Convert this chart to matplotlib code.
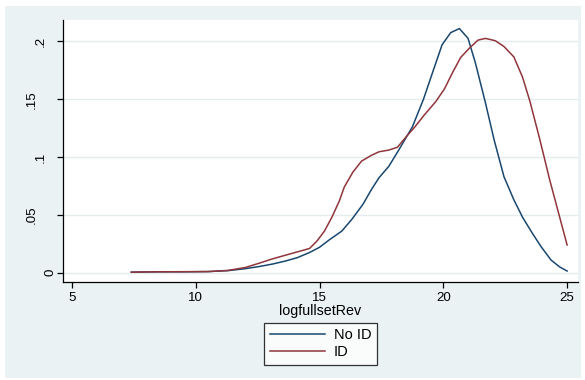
import matplotlib
matplotlib.use("Agg")
import matplotlib.pyplot as plt
from matplotlib.patches import Rectangle
from matplotlib.transforms import ScaledTranslation

# ---- data ----
x_noid = [7.4, 8.5, 9.5, 10.5, 11.3, 12.0, 12.6, 13.1, 13.6, 14.1, 14.6, 15.0,
          15.4, 15.9, 16.3, 16.75, 17.1, 17.4, 17.8, 18.2, 18.75, 19.2, 19.55,
          19.95, 20.3, 20.65, 21.0, 21.3, 21.7, 22.05, 22.45, 22.85, 23.2, 23.6,
          23.95, 24.35, 24.7, 25.0]
y_noid = [0.0005, 0.0008, 0.0008, 0.001, 0.0018, 0.0035, 0.0055, 0.0075, 0.010,
          0.013, 0.0175, 0.022, 0.0285, 0.036, 0.046, 0.059, 0.072, 0.082, 0.092,
          0.106, 0.126, 0.150, 0.172, 0.197, 0.2075, 0.211, 0.2025, 0.181, 0.147,
          0.115, 0.083, 0.063, 0.048, 0.034, 0.0225, 0.011, 0.005, 0.0015]

x_id = [7.4, 8.5, 9.5, 10.5, 11.3, 12.0, 12.6, 13.1, 13.6, 14.1, 14.6, 14.9,
        15.2, 15.5, 15.8, 16.0, 16.35, 16.7, 17.1, 17.4, 17.8, 18.15, 18.5,
        18.85, 19.2, 19.7, 20.05, 20.35, 20.7, 21.05, 21.4, 21.7, 22.1, 22.45,
        22.85, 23.2, 23.5, 23.9, 24.3, 24.7, 25.0]
y_id = [0.0005, 0.0008, 0.0009, 0.001, 0.002, 0.0045, 0.0085, 0.012, 0.015,
        0.018, 0.021, 0.0275, 0.036, 0.048, 0.062, 0.074, 0.087, 0.0965, 0.1015,
        0.1045, 0.106, 0.1085, 0.1175, 0.126, 0.1355, 0.148, 0.159, 0.172, 0.186,
        0.194, 0.201, 0.2025, 0.2005, 0.1955, 0.1865, 0.169, 0.148, 0.115, 0.080,
        0.048, 0.024]

series_labels = ["No ID", "ID"]
x_ticks = [5, 10, 15, 20, 25]
y_ticks = [0, 0.05, 0.1, 0.15, 0.2]
y_tick_labels = ["0", ".05", ".1", ".15", ".2"]
x_title = "logfullsetRev"

# ---- style ----
plt.rcParams['font.family'] = ['Liberation Sans', 'DejaVu Sans']
W, H = 585, 380
BG = '#EAF2F3'
NAVY = '#1a476f'
MAROON = '#90353b'

fig = plt.figure(figsize=(W / 100, H / 100), dpi=100)
fig.patch.set_facecolor('white')
fig.patches.append(Rectangle((5 / W, 1 - 378 / H), (581 - 5) / W, (378 - 6) / H,
                             transform=fig.transFigure, facecolor=BG,
                             edgecolor='none', zorder=-10))

ax = fig.add_axes([63 / W, 1 - 282 / H, (578 - 63) / W, (282 - 20) / H])
ax.set_facecolor('white')

ax.plot(x_noid, y_noid, color=NAVY, lw=1.1, label=series_labels[0], zorder=3)
ax.plot(x_id, y_id, color=MAROON, lw=1.1, label=series_labels[1], zorder=3)

ax.set_xlim(4.64, 25.44)
ax.set_ylim(-0.008, 0.2184)

for s in ['top', 'right']:
    ax.spines[s].set_visible(False)
for s in ['left', 'bottom']:
    ax.spines[s].set_color('black')
    ax.spines[s].set_linewidth(0.9)

ax.set_xticks(x_ticks)
ax.set_xticklabels([str(t) for t in x_ticks])
ax.set_yticks(y_ticks)
ax.set_yticklabels(y_tick_labels, rotation=90, va='center', ha='center')
ax.yaxis.grid(True, color='#E4ECEE', lw=1.0, zorder=0)
ax.set_axisbelow(True)
ax.tick_params(axis='both', direction='out', length=4, width=0.9,
               colors='black', labelsize=9.6)
ax.tick_params(axis='x', pad=3)
ax.tick_params(axis='y', pad=5)

# Stata-like horizontal offsets of the rotated y labels (longer labels sit further left)
for tick in ax.yaxis.get_major_ticks():
    lab = tick.label1
    n = len(lab.get_text())
    dx = -(n - 1) * 9.5 / 100.0
    lab.set_transform(lab.get_transform() + ScaledTranslation(dx, 0, fig.dpi_scale_trans))

ax.set_xlabel(x_title, fontsize=10.3, labelpad=0.3)

leg = fig.legend(loc='upper center', bbox_to_anchor=(320.5 / W, 1 - 323 / H),
                 ncol=1, frameon=True, fancybox=False, fontsize=10.5,
                 handlelength=3.8, handletextpad=0.6, labelspacing=0.22,
                 borderpad=0.36, borderaxespad=0)
leg.get_frame().set_edgecolor('black')
leg.get_frame().set_linewidth(0.9)
leg.get_frame().set_facecolor('white')

fig.savefig('out.png', dpi=100, facecolor=fig.get_facecolor())
